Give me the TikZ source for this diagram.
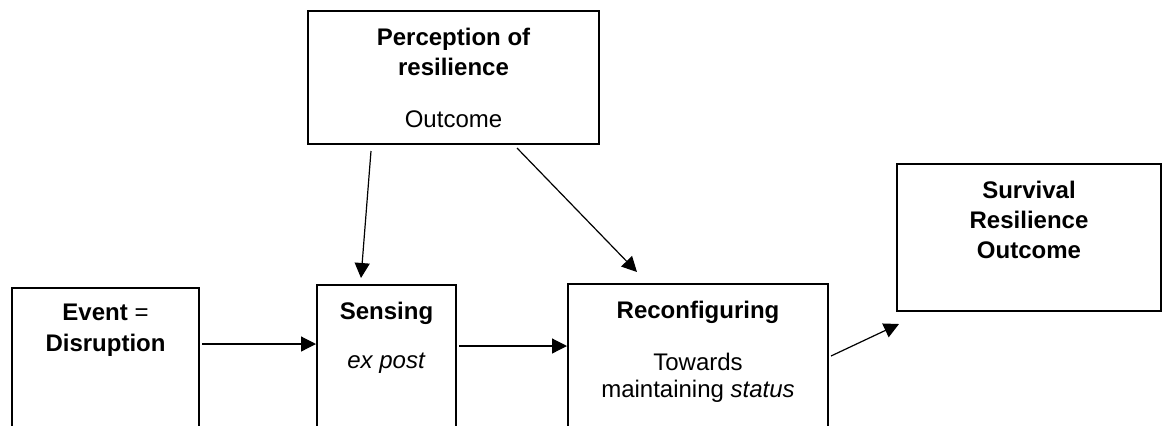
\documentclass[tikz,border=0pt,12pt]{standalone}
\usepackage{fontspec}
\setmainfont{Liberation Sans}
\usetikzlibrary{positioning, calc, arrows.meta}

\tikzset{
  box/.style={draw, line width=1pt, anchor=north west, inner sep=0pt},
  hd/.style={font=\bfseries, anchor=base, inner sep=0pt},
  txt/.style={anchor=base, inner sep=0pt},
  link/.style={line width=0.6pt, -{Triangle[length=7.5pt,width=7.5pt]}}
}

\begin{document}
\begin{tikzpicture}[x=0.5pt, y=-0.5pt]
\useasboundingbox (0,0) rectangle (1163,425);
\clip (0,0) rectangle (1163,425);

% boxes
\node[box, minimum width=145.5pt, minimum height=66.5pt] (percep) at (307,10) {};
\node[box, minimum width=93.5pt, minimum height=76.5pt] (event) at (11,287) {};
\node[box, minimum width=69.5pt, minimum height=78pt] (sensing) at (316,284) {};
\node[box, minimum width=130pt, minimum height=78pt] (reconf) at (567,283) {};
\node[box, minimum width=132pt, minimum height=73.5pt] (survival) at (896,163) {};

% texts
\node[hd] at ($(percep.north)+(0,35)$) {Perception of};
\node[hd] at ($(percep.north)+(0,65)$) {resilience};
\node[txt] at ($(percep.north)+(0,117)$) {Outcome};

\node[txt] at ($(event.north)+(0,33)$) {\textbf{Event} =};
\node[hd] at ($(event.north)+(0,64)$) {Disruption};

\node[hd] at ($(sensing.north)+(0,35)$) {Sensing};
\node[txt] at ($(sensing.north)+(0,84)$) {\emph{ex post}};

\node[hd] at ($(reconf.north)+(0,35)$) {Reconfiguring};
\node[txt] at ($(reconf.north)+(0,87)$) {Towards};
\node[txt] at ($(reconf.north)+(0,114)$) {maintaining \emph{status}};

\node[hd] at ($(survival.north)+(0,35)$) {Survival};
\node[hd] at ($(survival.north)+(0,65)$) {Resilience};
\node[hd] at ($(survival.north)+(0,95)$) {Outcome};

% arrows
\draw[link] ($(percep.south west)+(64,6)$) -- ($(sensing.north west)+(45,-6)$);
\draw[link] ($(percep.south west)+(210,3)$) -- ($(reconf.north west)+(70,-11)$);
\draw[link] ($(event.north east)+(2,57)$) -- ($(sensing.north west)+(0,60)$);
\draw[link] ($(sensing.north east)+(2,62)$) -- ($(reconf.north west)+(0,63)$);
\draw[link] ($(reconf.north east)+(2,73)$) -- ($(survival.south west)+(3,12)$);
\end{tikzpicture}
\end{document}
